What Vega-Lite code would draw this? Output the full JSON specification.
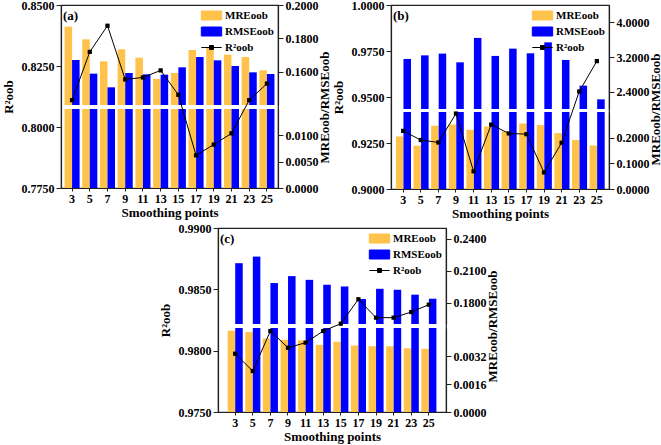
{
  "$schema": "https://vega.github.io/schema/vega-lite/v6.json",
  "background": "white",
  "padding": {"left": 1, "top": -2, "right": 2, "bottom": 2},
  "config": {
    "font": "Liberation Serif",
    "view": {"stroke": "#222", "strokeWidth": 1.2},
    "axis": {"labelFont": "Liberation Serif", "labelFontWeight": "bold", "labelFontSize": 12, "labelColor": "#000", "titleFont": "Liberation Serif", "titleFontWeight": "bold", "titleFontSize": 13, "titleColor": "#000", "domainColor": "#222", "domainWidth": 1.2, "tickColor": "#222", "grid": false},
    "legend": {"labelFont": "Liberation Serif", "labelFontWeight": "bold", "labelFontSize": 11, "labelColor": "#000"},
    "title": {"font": "Liberation Serif", "fontWeight": "bold", "fontSize": 13, "color": "#000"}
  },
  "datasets": {
    "a": [
      {"sp":3,"series":"MRE","value":0.187},{"sp":5,"series":"MRE","value":0.1794},{"sp":7,"series":"MRE","value":0.1662},{"sp":9,"series":"MRE","value":0.1734},{"sp":11,"series":"MRE","value":0.1684},{"sp":13,"series":"MRE","value":0.1556},{"sp":15,"series":"MRE","value":0.1592},{"sp":17,"series":"MRE","value":0.173},{"sp":19,"series":"MRE","value":0.1744},{"sp":21,"series":"MRE","value":0.1702},{"sp":23,"series":"MRE","value":0.1688},{"sp":25,"series":"MRE","value":0.1608},
      {"sp":3,"series":"RMSE","value":0.167},{"sp":5,"series":"RMSE","value":0.1588},{"sp":7,"series":"RMSE","value":0.1506},{"sp":9,"series":"RMSE","value":0.1592},{"sp":11,"series":"RMSE","value":0.1584},{"sp":13,"series":"RMSE","value":0.1582},{"sp":15,"series":"RMSE","value":0.1626},{"sp":17,"series":"RMSE","value":0.1688},{"sp":19,"series":"RMSE","value":0.1668},{"sp":21,"series":"RMSE","value":0.1634},{"sp":23,"series":"RMSE","value":0.1596},{"sp":25,"series":"RMSE","value":0.1586},
      {"sp":3,"series":"R2","value":0.811},{"sp":5,"series":"R2","value":0.8308},{"sp":7,"series":"R2","value":0.8415},{"sp":9,"series":"R2","value":0.8195},{"sp":11,"series":"R2","value":0.8203},{"sp":13,"series":"R2","value":0.8232},{"sp":15,"series":"R2","value":0.8132},{"sp":17,"series":"R2","value":0.7884},{"sp":19,"series":"R2","value":0.7928},{"sp":21,"series":"R2","value":0.7974},{"sp":23,"series":"R2","value":0.811},{"sp":25,"series":"R2","value":0.8178}
    ],
    "b": [
      {"sp":3,"series":"MRE","value":0.2047},{"sp":5,"series":"MRE","value":0.1685},{"sp":7,"series":"MRE","value":0.2463},{"sp":9,"series":"MRE","value":0.2514},{"sp":11,"series":"MRE","value":0.2307},{"sp":13,"series":"MRE","value":0.2436},{"sp":15,"series":"MRE","value":0.2241},{"sp":17,"series":"MRE","value":0.2553},{"sp":19,"series":"MRE","value":0.249},{"sp":21,"series":"MRE","value":0.2179},{"sp":23,"series":"MRE","value":0.1907},{"sp":25,"series":"MRE","value":0.1696},
      {"sp":3,"series":"RMSE","value":3.155},{"sp":5,"series":"RMSE","value":3.238},{"sp":7,"series":"RMSE","value":3.278},{"sp":9,"series":"RMSE","value":3.077},{"sp":11,"series":"RMSE","value":3.64},{"sp":13,"series":"RMSE","value":3.225},{"sp":15,"series":"RMSE","value":3.393},{"sp":17,"series":"RMSE","value":3.285},{"sp":19,"series":"RMSE","value":3.538},{"sp":21,"series":"RMSE","value":3.132},{"sp":23,"series":"RMSE","value":2.539},{"sp":25,"series":"RMSE","value":2.223},
      {"sp":3,"series":"R2","value":0.9316},{"sp":5,"series":"R2","value":0.9266},{"sp":7,"series":"R2","value":0.9253},{"sp":9,"series":"R2","value":0.941},{"sp":11,"series":"R2","value":0.9096},{"sp":13,"series":"R2","value":0.935},{"sp":15,"series":"R2","value":0.9302},{"sp":17,"series":"R2","value":0.9298},{"sp":19,"series":"R2","value":0.909},{"sp":21,"series":"R2","value":0.9251},{"sp":23,"series":"R2","value":0.953},{"sp":25,"series":"R2","value":0.9695}
    ],
    "c": [
      {"sp":3,"series":"MRE","value":0.004645},{"sp":5,"series":"MRE","value":0.004564},{"sp":7,"series":"MRE","value":0.004201},{"sp":9,"series":"MRE","value":0.004127},{"sp":11,"series":"MRE","value":0.004086},{"sp":13,"series":"MRE","value":0.003839},{"sp":15,"series":"MRE","value":0.004011},{"sp":17,"series":"MRE","value":0.003799},{"sp":19,"series":"MRE","value":0.003758},{"sp":21,"series":"MRE","value":0.003758},{"sp":23,"series":"MRE","value":0.003643},{"sp":25,"series":"MRE","value":0.003609},
      {"sp":3,"series":"RMSE","value":0.217},{"sp":5,"series":"RMSE","value":0.2232},{"sp":7,"series":"RMSE","value":0.1984},{"sp":9,"series":"RMSE","value":0.2049},{"sp":11,"series":"RMSE","value":0.2014},{"sp":13,"series":"RMSE","value":0.1968},{"sp":15,"series":"RMSE","value":0.1952},{"sp":17,"series":"RMSE","value":0.1834},{"sp":19,"series":"RMSE","value":0.193},{"sp":21,"series":"RMSE","value":0.1921},{"sp":23,"series":"RMSE","value":0.1875},{"sp":25,"series":"RMSE","value":0.1837},
      {"sp":3,"series":"R2","value":0.97975},{"sp":5,"series":"R2","value":0.97834},{"sp":7,"series":"R2","value":0.9816},{"sp":9,"series":"R2","value":0.98024},{"sp":11,"series":"R2","value":0.98065},{"sp":13,"series":"R2","value":0.9816},{"sp":15,"series":"R2","value":0.9822},{"sp":17,"series":"R2","value":0.98419},{"sp":19,"series":"R2","value":0.98269},{"sp":21,"series":"R2","value":0.98269},{"sp":23,"series":"R2","value":0.98315},{"sp":25,"series":"R2","value":0.98375}
    ]
  },
  "resolve": {"scale": {"color": "independent"}, "legend": {"color": "independent"}},
  "vconcat": [
    {
      "hconcat": [
        {
          "width": 217, "height": 183,
          "data": {"name": "a"},
          "title": {"text": "(a)", "anchor": "start", "frame": "group", "offset": -24, "dx": 2},
          "layer": [
            {
              "transform": [{"filter": "datum.series !== 'R2'"}],
              "mark": {"type": "bar"},
              "encoding": {
                "x": {"field": "sp", "type": "ordinal", "scale": {"paddingInner": 0.15, "paddingOuter": 0.2}, "axis": {"title": "Smoothing points", "labelAngle": 0, "tickSize": 3, "labelPadding": 2, "titlePadding": 2}},
                "xOffset": {"field": "series", "scale": {"domain": ["MRE", "RMSE"]}},
                "y": {"field": "value", "type": "quantitative", "scale": {"domain": [0.14, 0.2], "range": [100, 0], "clamp": true, "nice": false, "zero": false}, "axis": {"orient": "right", "values": [0.16, 0.18, 0.2], "format": ".4f", "title": "MREoob/RMSEoob", "titleAngle": 270, "titleBaseline": "top", "titleY": 102, "titlePadding": 0}},
                "y2": {"datum": 0.14},
                "color": {"field": "series", "type": "nominal", "scale": {"domain": ["MRE", "RMSE", "R2"], "range": ["#FFC24B", "#0000FF", "#000000"]},
                  "legend": {"title": null, "orient": "top-right", "offset": 4, "symbolSize": 144, "labelOffset": 7, "rowPadding": 3, "labelExpr": "datum.value === 'R2' ? 'R²oob' : datum.value + 'oob'",
                    "encode": {"symbols": {"update": {"shape": {"signal": "datum.value === 'R2' ? 'M-1.7,0H1.7M-0.33,-0.33H0.33V0.33H-0.33Z' : 'M-1.7,-0.75H1.7V0.75H-1.7Z'"}, "stroke": {"signal": "datum.value === 'R2' ? '#000' : 'transparent'"}, "strokeWidth": {"value": 1}, "opacity": {"value": 1}}}}}}
              }
            },
            {
              "transform": [{"filter": "datum.series !== 'R2'"}],
              "mark": {"type": "bar"},
              "encoding": {
                "x": {"field": "sp", "type": "ordinal"},
                "xOffset": {"field": "series", "scale": {"domain": ["MRE", "RMSE"]}},
                "y": {"field": "value", "type": "quantitative", "scale": {"domain": [0, 0.015], "range": [183, 104], "clamp": true, "nice": false, "zero": false}, "axis": {"orient": "right", "values": [0, 0.005, 0.01], "format": ".4f", "title": null}},
                "y2": {"datum": 0},
                "color": {"field": "series", "type": "nominal"}
              }
            },
            {
              "transform": [{"filter": "datum.series === 'R2'"}],
              "mark": {"type": "line", "strokeWidth": 1, "point": {"shape": "square", "filled": true, "size": 18}},
              "encoding": {
                "x": {"field": "sp", "type": "ordinal"},
                "y": {"field": "value", "type": "quantitative", "scale": {"domain": [0.775, 0.85], "nice": false, "zero": false}, "axis": {"orient": "left", "values": [0.775, 0.8, 0.825, 0.85], "format": ".4f", "title": "R²oob", "titlePadding": 6}},
                "color": {"field": "series", "type": "nominal"}
              }
            }
          ],
          "resolve": {"scale": {"y": "independent"}, "axis": {"y": "independent"}}
        },
        {
          "width": 218, "height": 184,
          "data": {"name": "b"},
          "title": {"text": "(b)", "anchor": "start", "frame": "group", "offset": -24, "dx": 2},
          "layer": [
            {
              "transform": [{"filter": "datum.series !== 'R2'"}],
              "mark": {"type": "bar"},
              "encoding": {
                "x": {"field": "sp", "type": "ordinal", "scale": {"paddingInner": 0.18, "paddingOuter": 0.28}, "axis": {"title": "Smoothing points", "labelAngle": 0, "tickSize": 3, "labelPadding": 2, "titlePadding": 2}},
                "xOffset": {"field": "series", "scale": {"domain": ["MRE", "RMSE"]}},
                "y": {"field": "value", "type": "quantitative", "scale": {"domain": [2.0, 4.4], "range": [104, 0], "clamp": true, "nice": false, "zero": false}, "axis": {"orient": "right", "values": [2.4, 3.2, 4.0], "format": ".4f", "title": "MREoob/RMSEoob", "titleAngle": 270, "titleBaseline": "top", "titleY": 104, "titlePadding": 0}},
                "y2": {"datum": 2.0},
                "color": {"field": "series", "type": "nominal", "scale": {"domain": ["MRE", "RMSE", "R2"], "range": ["#FFC24B", "#0000FF", "#000000"]},
                  "legend": {"title": null, "orient": "top-right", "offset": 4, "symbolSize": 144, "labelOffset": 7, "rowPadding": 3, "labelExpr": "datum.value === 'R2' ? 'R²oob' : datum.value + 'oob'",
                    "encode": {"symbols": {"update": {"shape": {"signal": "datum.value === 'R2' ? 'M-1.7,0H1.7M-0.33,-0.33H0.33V0.33H-0.33Z' : 'M-1.7,-0.75H1.7V0.75H-1.7Z'"}, "stroke": {"signal": "datum.value === 'R2' ? '#000' : 'transparent'"}, "strokeWidth": {"value": 1}, "opacity": {"value": 1}}}}}}
              }
            },
            {
              "transform": [{"filter": "datum.series !== 'R2'"}],
              "mark": {"type": "bar"},
              "encoding": {
                "x": {"field": "sp", "type": "ordinal"},
                "xOffset": {"field": "series", "scale": {"domain": ["MRE", "RMSE"]}},
                "y": {"field": "value", "type": "quantitative", "scale": {"domain": [0, 0.3], "range": [184, 107], "clamp": true, "nice": false, "zero": false}, "axis": {"orient": "right", "values": [0, 0.1, 0.2], "format": ".4f", "title": null}},
                "y2": {"datum": 0},
                "color": {"field": "series", "type": "nominal"}
              }
            },
            {
              "transform": [{"filter": "datum.series === 'R2'"}],
              "mark": {"type": "line", "strokeWidth": 1, "point": {"shape": "square", "filled": true, "size": 18}},
              "encoding": {
                "x": {"field": "sp", "type": "ordinal"},
                "y": {"field": "value", "type": "quantitative", "scale": {"domain": [0.9, 1.0], "nice": false, "zero": false}, "axis": {"orient": "left", "values": [0.9, 0.925, 0.95, 0.975, 1.0], "format": ".4f", "title": "R²oob", "titlePadding": 6}},
                "color": {"field": "series", "type": "nominal"}
              }
            }
          ],
          "resolve": {"scale": {"y": "independent"}, "axis": {"y": "independent"}}
        }
      ],
      "spacing": -1,
      "resolve": {"scale": {"color": "independent"}, "legend": {"color": "independent"}}
    },
    {
      "hconcat": [
        {
          "width": 91, "height": 1,
          "view": {"stroke": null},
          "data": {"values": []},
          "mark": {"type": "point", "opacity": 0}
        },
        {
          "width": 228, "height": 184,
          "data": {"name": "c"},
          "title": {"text": "(c)", "anchor": "start", "frame": "group", "offset": -24, "dx": 2},
          "layer": [
            {
              "transform": [{"filter": "datum.series !== 'R2'"}],
              "mark": {"type": "bar"},
              "encoding": {
                "x": {"field": "sp", "type": "ordinal", "scale": {"paddingInner": 0.15, "paddingOuter": 0.55}, "axis": {"title": "Smoothing points", "labelAngle": 0, "tickSize": 3, "labelPadding": 2, "titlePadding": 2}},
                "xOffset": {"field": "series", "scale": {"domain": ["MRE", "RMSE"]}},
                "y": {"field": "value", "type": "quantitative", "scale": {"domain": [0.16, 0.25], "range": [96, 0], "clamp": true, "nice": false, "zero": false}, "axis": {"orient": "right", "values": [0.18, 0.21, 0.24], "format": ".4f", "title": "MREoob/RMSEoob", "titleAngle": 270, "titleBaseline": "top", "titleY": 98, "titlePadding": 0}},
                "y2": {"datum": 0.16},
                "color": {"field": "series", "type": "nominal", "scale": {"domain": ["MRE", "RMSE", "R2"], "range": ["#FFC24B", "#0000FF", "#000000"]},
                  "legend": {"title": null, "orient": "top-right", "offset": 4, "symbolSize": 144, "labelOffset": 7, "rowPadding": 3, "labelExpr": "datum.value === 'R2' ? 'R²oob' : datum.value + 'oob'",
                    "encode": {"symbols": {"update": {"shape": {"signal": "datum.value === 'R2' ? 'M-1.7,0H1.7M-0.33,-0.33H0.33V0.33H-0.33Z' : 'M-1.7,-0.75H1.7V0.75H-1.7Z'"}, "stroke": {"signal": "datum.value === 'R2' ? '#000' : 'transparent'"}, "strokeWidth": {"value": 1}, "opacity": {"value": 1}}}}}}
              }
            },
            {
              "transform": [{"filter": "datum.series !== 'R2'"}],
              "mark": {"type": "bar"},
              "encoding": {
                "x": {"field": "sp", "type": "ordinal"},
                "xOffset": {"field": "series", "scale": {"domain": ["MRE", "RMSE"]}},
                "y": {"field": "value", "type": "quantitative", "scale": {"domain": [0, 0.0048], "range": [184, 100], "clamp": true, "nice": false, "zero": false}, "axis": {"orient": "right", "values": [0, 0.0016, 0.0032], "format": ".4f", "title": null}},
                "y2": {"datum": 0},
                "color": {"field": "series", "type": "nominal"}
              }
            },
            {
              "transform": [{"filter": "datum.series === 'R2'"}],
              "mark": {"type": "line", "strokeWidth": 1, "point": {"shape": "square", "filled": true, "size": 18}},
              "encoding": {
                "x": {"field": "sp", "type": "ordinal"},
                "y": {"field": "value", "type": "quantitative", "scale": {"domain": [0.975, 0.99], "nice": false, "zero": false}, "axis": {"orient": "left", "values": [0.975, 0.98, 0.985, 0.99], "format": ".4f", "title": "R²oob", "titlePadding": 6}},
                "color": {"field": "series", "type": "nominal"}
              }
            }
          ],
          "resolve": {"scale": {"y": "independent"}, "axis": {"y": "independent"}}
        }
      ],
      "spacing": 6,
      "resolve": {"scale": {"color": "independent"}, "legend": {"color": "independent"}}
    }
  ],
  "spacing": 0
}
